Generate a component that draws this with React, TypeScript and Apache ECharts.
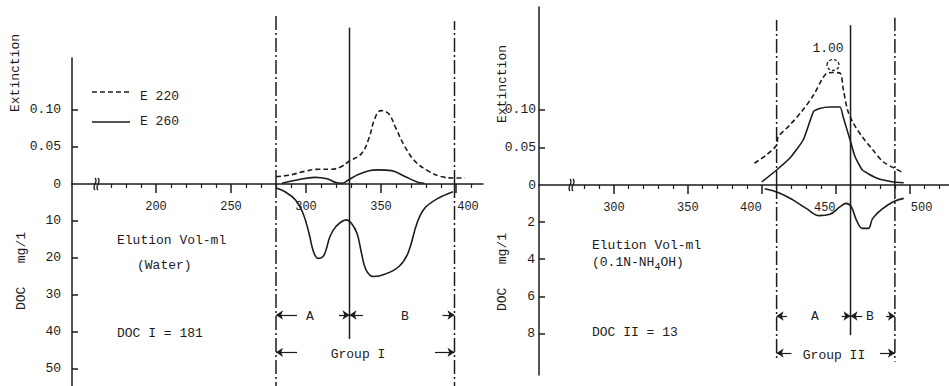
import React, { useEffect, useRef } from "react";
import * as echarts from "echarts";

const FONT = '"Liberation Mono", "DejaVu Sans Mono", monospace';
const INK = "#1c1c1c";

// ---------- Data: left panel (eluted with water) ----------
const waterMajorTicks = [200, 250, 300, 350, 400];
const waterMinorTicks = [170, 180, 190, 210, 220, 230, 240, 260, 270, 280, 290, 310, 320, 330, 340, 360, 370, 380, 390, 410];
const waterExtTicks = [0, 0.05, 0.1];
const waterDocTicks = [10, 20, 30, 40, 50];
const waterE220: [number, number][] = [
  [280, 0.010], [289, 0.012], [299, 0.017], [309, 0.020], [317, 0.020], [323, 0.023], [329, 0.031],
  [337, 0.041], [342, 0.062], [346, 0.089], [350, 0.099], [355, 0.095], [360, 0.075], [366, 0.050],
  [373, 0.030], [382, 0.017], [390, 0.010], [399, 0.008], [406, 0.008],
];
const waterE260: [number, number][] = [
  [284, 0.001], [293, 0.005], [306, 0.009], [314, 0.007], [320, 0.002], [324, 0.001], [328, 0.005],
  [334, 0.012], [342, 0.018], [348, 0.019], [357, 0.018], [366, 0.010], [375, 0.002], [379, 0.001],
];
const waterDOC: [number, number][] = [
  [280, 1.1], [286, 2.1], [293, 4.3], [298, 7.9], [302, 13.3], [305, 18.3], [308, 20.1], [312, 19.2],
  [316, 14.2], [320, 11.5], [327, 9.7], [330, 10.5], [334, 13.3], [337, 18.7], [340, 23.2], [345, 25.0],
  [353, 24.3], [362, 22.3], [368, 18.7], [374, 10.6], [379, 6.6], [388, 3.9], [398, 2.1],
];
// fraction boundaries: [volume, top extinction, bottom DOC]
const waterBounds: [number, number, number][] = [[280, 0.228, 54.6], [329, 0.211, 41.9], [399, 0.22, 54.6]];

// ---------- Data: right panel (eluted with 0.1N NH4OH) ----------
const ammMajorTicks = [300, 350, 400, 450, 500];
const ammMinorTicks = [280, 290, 310, 320, 330, 340, 360, 370, 380, 390, 410, 420, 430, 440, 460, 470, 480, 490, 510, 520];
const ammExtTicks = [0, 0.05, 0.1];
const ammDocTicks = [2, 4, 6, 8];
const ammE220: [number, number][] = [
  [395, 0.029], [403, 0.040], [410, 0.053], [411, 0.064], [419, 0.080], [427, 0.098], [435, 0.120],
  [441, 0.142], [444, 0.149], [448, 0.150], [453, 0.149], [455, 0.129], [458, 0.100], [462, 0.082],
  [468, 0.064], [475, 0.047], [482, 0.031], [490, 0.022], [496, 0.016],
];
const ammE260: [number, number][] = [
  [400, 0.004], [410, 0.020], [419, 0.036], [428, 0.060], [435, 0.098], [439, 0.102], [446, 0.104],
  [453, 0.104], [455, 0.091], [460, 0.058], [463, 0.038], [468, 0.020], [478, 0.009], [489, 0.004], [496, 0.003],
];
const ammDOC: [number, number][] = [
  [402, 0.2], [411, 0.4], [421, 0.8], [430, 1.26], [439, 1.65], [446, 1.58], [453, 1.17], [457, 0.99],
  [460.5, 1.17], [464, 1.89], [468, 2.34], [472, 2.34], [475, 1.8], [482, 1.26], [489, 0.9], [496, 0.72],
];
const ammBounds: [number, number, number][] = [[410, 0.22, 9.43], [460, 0.213, 8.09], [490, 0.223, 9.53]];

// arrows: [from, to, level(DOC units)]
const waterArrows: [number, number, number][] = [
  [294, 280, 35.4], [322, 329, 35.4], [338, 329, 35.4], [391, 399, 35.4], [294, 280, 45.5], [386, 399, 45.5],
];
const ammArrows: [number, number, number][] = [
  [417, 410, 7.06], [454, 460, 7.06], [468, 460, 7.06], [484, 490, 7.06], [420, 410, 9.06], [480, 490, 9.06],
];

const legendNames = ["E 220", "E 260"];

const DASH220 = [5, 3];
const DASHDOT = [14, 3, 2, 3];

// label nudges (px) so tick labels clear the fraction lines, as in the original
const waterLabelShift: Record<number, number> = { 400: 12 };
const ammLabelShift: Record<number, number> = { 400: -10, 450: -12, 500: 7 };

function xMajor(grid: number, min: number, max: number, ticks: number[], shift: Record<number, number>) {
  return {
    type: "value", gridIndex: grid, min, max, position: "bottom",
    axisLine: { show: true, onZero: false, lineStyle: { color: INK, width: 1.5 } },
    axisTick: { show: true, inside: false, length: 9, customValues: ticks, lineStyle: { color: INK, width: 1.5 } },
    axisLabel: {
      show: true, customValues: ticks, margin: 17, color: INK, fontFamily: FONT, fontSize: 12,
      formatter: (v: number) => {
        const s = shift[v];
        if (!s) return String(v);
        return s > 0 ? `{r|${v}}` : `{l|${v}}`;
      },
      rich: {
        r: { fontFamily: FONT, fontSize: 12, color: INK, padding: [0, 0, 0, 24] },
        l: { fontFamily: FONT, fontSize: 12, color: INK, padding: [0, 22, 0, 0] },
      },
    },
    splitLine: { show: false },
  };
}
function xMinor(grid: number, min: number, max: number, ticks: number[]) {
  return {
    type: "value", gridIndex: grid, min, max, position: "bottom",
    axisLine: { show: false },
    axisTick: { show: true, inside: false, length: 4, customValues: ticks, lineStyle: { color: INK, width: 1.2 } },
    axisLabel: { show: false },
    splitLine: { show: false },
  };
}
function xHidden(grid: number, min: number, max: number) {
  return { type: "value", gridIndex: grid, min, max, show: false, splitLine: { show: false } };
}
function yAxis(grid: number, max: number, inverse: boolean, labels: number[], margin: number, fmt: (v: number) => string) {
  return {
    type: "value", gridIndex: grid, min: 0, max, inverse, position: "left",
    axisLine: { show: true, onZero: false, lineStyle: { color: INK, width: 1.5 } },
    axisTick: { show: true, inside: true, length: 6, customValues: labels.filter((v) => v !== 0), lineStyle: { color: INK, width: 1.5 } },
    axisLabel: { show: true, customValues: labels, margin, color: INK, fontFamily: FONT, fontSize: 13, formatter: fmt },
    splitLine: { show: false },
  };
}
const extFmt = (v: number) => (v === 0 ? "0" : v.toFixed(2));
const docFmt = (v: number) => String(v);

function curve(name: string, data: [number, number][], xi: number, yi: number, dashed: boolean, smooth: number) {
  return {
    type: "line", name, data, xAxisIndex: xi, yAxisIndex: yi, symbol: "none", smooth,
    lineStyle: { color: INK, width: 1.6, type: dashed ? DASH220 : "solid" },
    itemStyle: { color: INK }, silent: true, z: 3,
  };
}
function bounds(prefix: string, b: [number, number, number][], xu: number, yu: number, xl: number, yl: number) {
  const out: any[] = [];
  b.forEach(([v, top, bottom], i) => {
    const style = { color: INK, width: 1.5, type: i === 1 ? "solid" : DASHDOT };
    out.push({ type: "line", name: `${prefix}-u${i}`, data: [[v, 0], [v, top]], xAxisIndex: xu, yAxisIndex: yu, symbol: "none", clip: false, lineStyle: style, silent: true, z: 2 });
    out.push({ type: "line", name: `${prefix}-l${i}`, data: [[v, 0], [v, bottom]], xAxisIndex: xl, yAxisIndex: yl, symbol: "none", clip: false, lineStyle: style, silent: true, z: 2 });
  });
  return out;
}
function arrowMarks(a: [number, number, number][]) {
  return {
    silent: true, symbol: ["none", "arrow"], symbolSize: 7, label: { show: false },
    lineStyle: { type: "solid", color: INK, width: 1.2 },
    data: a.map(([f, t, y]) => [{ coord: [f, y] }, { coord: [t, y] }]),
  };
}

function txt(text: string, x: number, y: number, align = "left", rotation = 0, extra: any = {}) {
  return {
    type: "text", x, y, rotation, z: 10, silent: true,
    style: { text, fill: INK, fontFamily: FONT, fontSize: 13, align, verticalAlign: "middle", ...extra },
  };
}
function breakMark(x: number, y: number) {
  const s = (dx: number) => ({
    type: "bezierCurve", z: 10, silent: true,
    shape: { x1: x + dx, y1: y - 6, cpx1: x + dx + 4, cpy1: y - 2, cpx2: x + dx - 4, cpy2: y + 2, x2: x + dx, y2: y + 6 },
    style: { stroke: INK, lineWidth: 1.3, fill: "none" },
  });
  return [s(0), s(3)];
}
function legendKey(y: number, dashed: boolean, label: string, textDy: number) {
  return [
    {
      type: "line", z: 10, silent: true, shape: { x1: 92, y1: y, x2: 130, y2: y },
      style: { stroke: INK, lineWidth: 1.6, lineDash: dashed ? DASH220 : null },
    },
    txt(label, 140, y + textDy),
  ];
}

export default function App() {
  const ref = useRef<HTMLDivElement>(null);
  useEffect(() => {
    if (!ref.current) return;
    const chart = echarts.init(ref.current, null, { renderer: "svg" });
    const option: any = {
      animation: false,
      backgroundColor: "#ffffff",
      textStyle: { fontFamily: FONT },
      grid: [
        { left: 72, top: 58, width: 411, height: 126 },
        { left: 72, top: 184, width: 411, height: 202 },
        { left: 539, top: 7, width: 410, height: 178 },
        { left: 539, top: 185, width: 410, height: 190 },
      ],
      xAxis: [
        xMajor(0, 144, 418, waterMajorTicks, waterLabelShift),
        xMinor(0, 144, 418, waterMinorTicks),
        xHidden(1, 144, 418),
        xMajor(2, 249.3, 526.6, ammMajorTicks, ammLabelShift),
        xMinor(2, 249.3, 526.6, ammMinorTicks),
        xHidden(3, 249.3, 526.6),
      ],
      yAxis: [
        yAxis(0, 0.17, false, waterExtTicks, 11, extFmt),
        yAxis(1, 54.6, true, waterDocTicks, 11, docFmt),
        yAxis(2, 0.2373, false, ammExtTicks, 3, extFmt),
        yAxis(3, 10.24, true, ammDocTicks, 4, docFmt),
      ],
      series: [
        curve(legendNames[0], waterE220, 0, 0, true, 0.4),
        curve(legendNames[1], waterE260, 0, 0, false, 0.4),
        { ...curve("DOC I", waterDOC, 2, 1, false, 0.4), markLine: arrowMarks(waterArrows) },
        curve(legendNames[0], ammE220, 3, 2, true, 0.3),
        curve(legendNames[1], ammE260, 3, 2, false, 0.15),
        { ...curve("DOC II", ammDOC, 5, 3, false, 0.4), markLine: arrowMarks(ammArrows) },
        ...bounds("wb", waterBounds, 0, 0, 2, 1),
        ...bounds("ab", ammBounds, 3, 2, 5, 3),
      ],
      graphic: [
        ...legendKey(92, true, legendNames[0], 4),
        ...legendKey(122, false, legendNames[1], -1),
        ...breakMark(95, 184),
        ...breakMark(570, 185),
        txt("Extinction", 15, 73, "center", Math.PI / 2),
        txt("DOC   mg/1", 21, 271, "center", Math.PI / 2),
        txt("Elution Vol-ml", 117, 240),
        txt("(Water)", 137, 265),
        txt("DOC I = 181", 117, 333),
        txt("A", 310, 316, "center"),
        txt("B", 405, 316, "center"),
        txt("Group I", 358, 354, "center"),
        txt("Extinction", 502, 84, "center", Math.PI / 2),
        txt("DOC   mg/1", 502, 272, "center", Math.PI / 2),
        txt("Elution Vol-ml", 592, 245),
        txt("(0.1N-NH{s|4}OH)", 592, 262, "left", 0, {
          rich: { s: { fontFamily: FONT, fontSize: 10, fill: INK, padding: [10, 0, 0, 0] } },
        }),
        txt("DOC II = 13", 592, 332),
        txt("A", 815, 316, "center"),
        txt("B", 870, 316, "center"),
        txt("Group II", 834, 355, "center"),
        txt("1.00", 828, 48, "center"),
        {
          type: "ellipse", z: 10, silent: true, shape: { cx: 833, cy: 65, rx: 6, ry: 5.5 },
          style: { stroke: INK, lineWidth: 1.3, fill: "none", lineDash: [3, 2] },
        },
      ],
    };
    chart.setOption(option);
    return () => chart.dispose();
  }, []);
  return (
    <div
      ref={ref}
      style={{ position: "fixed", left: 0, top: 0, width: 949, height: 386, background: "#fff" }}
    />
  );
}
